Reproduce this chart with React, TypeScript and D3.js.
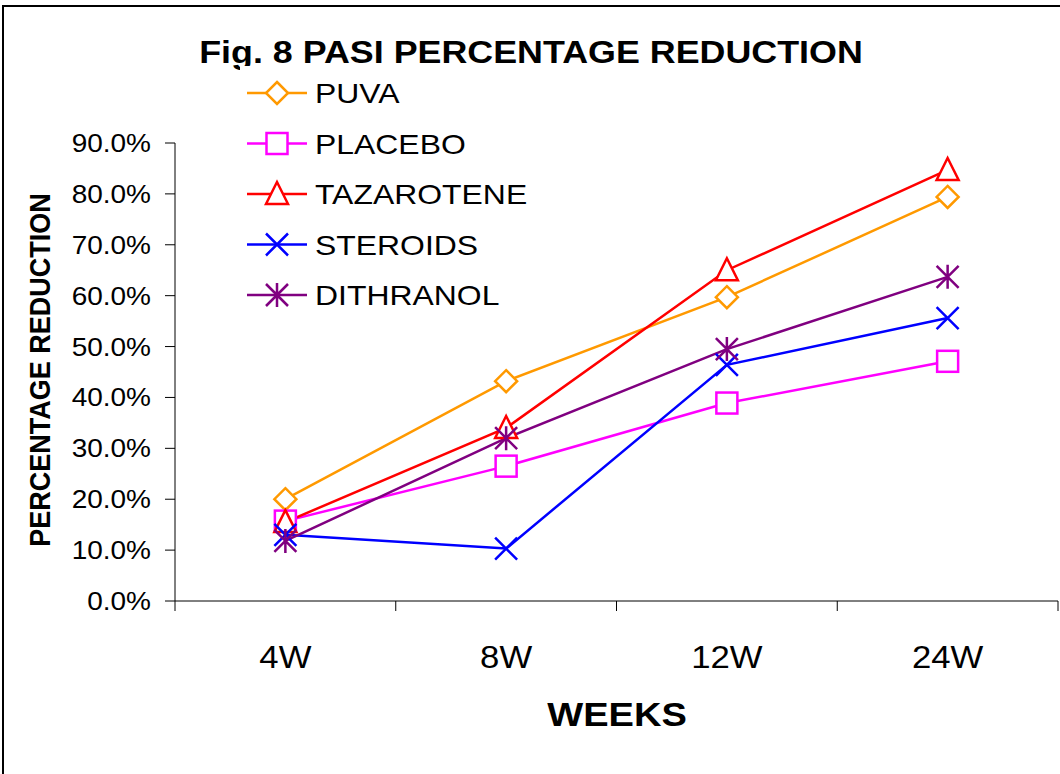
import React from "react";
import * as d3 from "d3";

const weeks = ["4W", "8W", "12W", "24W"];
const seriesNames = ["PUVA", "PLACEBO", "TAZAROTENE", "STEROIDS", "DITHRANOL"];
const seriesColors = ["#FF9900", "#FF00FF", "#FF0000", "#0000FF", "#800080"];
const seriesMarkers = ["diamond", "square", "triangle", "x", "star"];
const puva = [0.2, 0.432, 0.597, 0.794];
const placebo = [0.157, 0.265, 0.389, 0.471];
const tazarotene = [0.155, 0.34, 0.65, 0.847];
const steroids = [0.13, 0.103, 0.464, 0.556];
const dithranol = [0.118, 0.32, 0.495, 0.637];
const seriesValues = [puva, placebo, tazarotene, steroids, dithranol];
const yTicks = [0, 0.1, 0.2, 0.3, 0.4, 0.5, 0.6, 0.7, 0.8, 0.9];

const FONT = "'Liberation Sans', Arial, sans-serif";
const SX = 1.12;

function T({ x, y, children, ...rest }: any) {
  return (
    <text transform={`translate(${x},${y}) scale(${SX},1)`} {...rest}>
      {children}
    </text>
  );
}

function Marker({ type, x, y, color }: { type: string; x: number; y: number; color: string }) {
  const sw = 2.5;
  if (type === "diamond") {
    const r = 11;
    return <path d={`M${x},${y - r}L${x + r},${y}L${x},${y + r}L${x - r},${y}Z`} fill="white" stroke={color} strokeWidth={sw} />;
  }
  if (type === "square") {
    const r = 10.5;
    return <rect x={x - r} y={y - r} width={2 * r} height={2 * r} fill="white" stroke={color} strokeWidth={sw} />;
  }
  if (type === "triangle") {
    const r = 11;
    return <path d={`M${x},${y - r - 1}L${x + r},${y + r - 1}L${x - r},${y + r - 1}Z`} fill="white" stroke={color} strokeWidth={sw} />;
  }
  if (type === "x") {
    const r = 11;
    return <path d={`M${x - r},${y - r}L${x + r},${y + r}M${x - r},${y + r}L${x + r},${y - r}`} stroke={color} strokeWidth={sw} fill="none" />;
  }
  const r = 11;
  return (
    <path
      d={`M${x - r},${y - r}L${x + r},${y + r}M${x - r},${y + r}L${x + r},${y - r}M${x},${y - r - 1}L${x},${y + r + 1}`}
      stroke={color}
      strokeWidth={sw}
      fill="none"
    />
  );
}

export default function App() {
  const W = 1060, H = 774;
  const left = 175, right = 1058, top = 143, bottom = 601;
  const x = d3.scaleBand().domain(weeks).range([left, right]);
  const y = d3.scaleLinear().domain([0, 0.9]).range([bottom, top]);
  const line = d3.line<number>().x((_, i) => (x(weeks[i]) as number) + x.bandwidth() / 2).y((d) => y(d));
  const fmt = d3.format(".1%");
  const tickXs = weeks.map((w) => x(w) as number).concat([right]);

  return (
    <svg width={W} height={H} style={{ position: "absolute", left: 0, top: 0 }} fontFamily={FONT}>
      <rect x={0} y={0} width={W} height={H} fill="white" />
      <rect x={3} y={6} width={W + 10} height={H + 10} fill="none" stroke="black" strokeWidth={2} />
      <T x={531} y={63} textAnchor="middle" fontSize={32} fontWeight="bold">
        Fig. 8 PASI PERCENTAGE REDUCTION
      </T>
      {/* axes */}
      <line x1={left} y1={top} x2={left} y2={bottom} stroke="black" strokeWidth={1} />
      <line x1={left} y1={bottom} x2={right} y2={bottom} stroke="black" strokeWidth={1} />
      {yTicks.map((t) => (
        <g key={t}>
          <line x1={left - 10} x2={left} y1={y(t)} y2={y(t)} stroke="black" />
          <T x={151} y={y(t) + 9} textAnchor="end" fontSize={25}>
            {fmt(t)}
          </T>
        </g>
      ))}
      {tickXs.map((tx, i) => (
        <line key={i} x1={tx} x2={tx} y1={bottom} y2={bottom + 10} stroke="black" />
      ))}
      {weeks.map((w) => (
        <T key={w} x={(x(w) as number) + x.bandwidth() / 2} y={668} textAnchor="middle" fontSize={31}>
          {w}
        </T>
      ))}
      <T x={617} y={726} textAnchor="middle" fontSize={34} fontWeight="bold">
        WEEKS
      </T>
      <text transform={`translate(50,370) scale(${SX},1) rotate(-90)`} textAnchor="middle" fontSize={27} fontWeight="bold">
        PERCENTAGE REDUCTION
      </text>
      {/* series */}
      {seriesValues.map((vals, si) => (
        <path key={"l" + si} d={line(vals) || ""} fill="none" stroke={seriesColors[si]} strokeWidth={2.5} />
      ))}
      {seriesValues.map((vals, si) =>
        vals.map((v, i) => (
          <Marker
            key={si + "-" + i}
            type={seriesMarkers[si]}
            x={(x(weeks[i]) as number) + x.bandwidth() / 2}
            y={y(v)}
            color={seriesColors[si]}
          />
        ))
      )}
      {/* legend */}
      <rect x={240} y={66} width={300} height={245} fill="white" />
      {seriesNames.map((n, i) => {
        const ly = 93 + i * 50.5;
        return (
          <g key={n}>
            <line x1={247} x2={307} y1={ly} y2={ly} stroke={seriesColors[i]} strokeWidth={2.5} />
            <Marker type={seriesMarkers[i]} x={277} y={ly} color={seriesColors[i]} />
            <T x={315} y={ly + 10} fontSize={28.5}>
              {n}
            </T>
          </g>
        );
      })}
    </svg>
  );
}
